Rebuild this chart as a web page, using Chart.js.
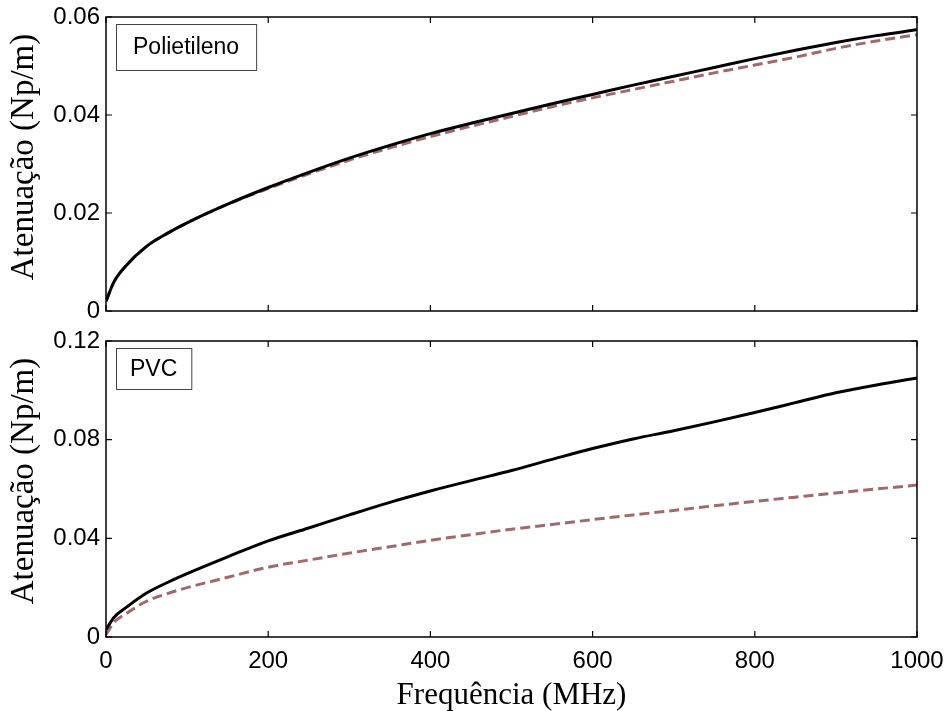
<!DOCTYPE html>
<html>
<head>
<meta charset="utf-8">
<script src="https://cdn.jsdelivr.net/npm/chart.js@4.4.1/dist/chart.umd.min.js"></script>
<style>
  html, body { margin: 0; padding: 0; background: #fff; }
  #wrap { position: relative; width: 946px; height: 711px; }
  canvas { position: absolute; left: 0; }
  #c1 { top: 0; }
  #c2 { top: 325px; }
</style>
</head>
<body>
<div id="wrap">
  <canvas id="c1" width="946" height="325"></canvas>
  <canvas id="c2" width="946" height="386"></canvas>
</div>
<script>
// ---- data ----
const freqs = [0, 10, 25, 50, 75, 100, 150, 200, 250, 300, 350, 400, 450, 500, 550, 600, 650, 700, 750, 800, 850, 900, 950, 1000];

const polySolid  = [0.002, 0.006, 0.0093, 0.0132, 0.0158, 0.0180, 0.0218, 0.0252, 0.0283, 0.0312, 0.0338, 0.0362, 0.0383, 0.0403, 0.0423, 0.0442, 0.0461, 0.0479, 0.0497, 0.0515, 0.0532, 0.0548, 0.0562, 0.0574];
const polyDashed = [0.002, 0.006, 0.0093, 0.0132, 0.0158, 0.0180, 0.0218, 0.0250, 0.0280, 0.0308, 0.0333, 0.0356, 0.0377, 0.0397, 0.0417, 0.0435, 0.0452, 0.0469, 0.0486, 0.0502, 0.0518, 0.0536, 0.0551, 0.0564];

const pvcSolid   = [0.003, 0.008, 0.012, 0.0178, 0.0220, 0.0257, 0.0325, 0.0390, 0.0442, 0.0495, 0.0546, 0.0592, 0.0634, 0.0675, 0.0720, 0.0764, 0.0803, 0.0836, 0.0872, 0.0910, 0.0950, 0.0990, 0.1022, 0.1050];
const pvcDashed  = [0.001, 0.006, 0.0095, 0.0145, 0.0175, 0.0200, 0.0242, 0.0283, 0.0312, 0.0340, 0.0366, 0.0392, 0.0415, 0.0437, 0.0456, 0.0476, 0.0495, 0.0513, 0.0532, 0.0550, 0.0567, 0.0584, 0.0600, 0.0616];

const xTickValues = [0, 200, 400, 600, 800, 1000];
const xTickLabels = ['0', '200', '400', '600', '800', '1000'];
const topYTickValues = [0, 0.02, 0.04, 0.06];
const topYTickLabels = ['0', '0.02', '0.04', '0.06'];
const botYTickValues = [0, 0.04, 0.08, 0.12];
const botYTickLabels = ['0', '0.04', '0.08', '0.12'];

const topLegend = 'Polietileno';
const botLegend = 'PVC';
const yTitle = 'Atenuação (Np/m)';
const xTitle = 'Frequência (MHz)';

// ---- helpers ----
const toPts = (ys) => freqs.map((f, i) => ({ x: f, y: ys[i] }));
const SANS = '"Liberation Sans", Arial, sans-serif';
const SERIF = '"Liberation Serif", "Times New Roman", serif';
const DASH_COLOR = '#A06A6A';

const frameTicks = {
  id: 'frameTicks',
  afterDraw(chart, args, opts) {
    const { ctx, chartArea: { left, right, top, bottom } } = chart;
    const x = chart.scales.x, y = chart.scales.y;
    ctx.save();
    ctx.strokeStyle = '#000';
    ctx.lineWidth = 1.5;
    ctx.strokeRect(left, top, right - left, bottom - top);
    ctx.lineWidth = 1.2;
    const L = 6;
    ctx.beginPath();
    x.ticks.forEach(t => {
      const px = x.getPixelForValue(t.value);
      ctx.moveTo(px, bottom); ctx.lineTo(px, bottom - L);
      ctx.moveTo(px, top); ctx.lineTo(px, top + L);
    });
    y.ticks.forEach(t => {
      const py = y.getPixelForValue(t.value);
      ctx.moveTo(left, py); ctx.lineTo(left + L, py);
      ctx.moveTo(right, py); ctx.lineTo(right - L, py);
    });
    ctx.stroke();
    // legend box
    ctx.font = '23px ' + SANS;
    const tw = ctx.measureText(opts.text).width;
    const bx = left + 10, by = top + 7;
    const bw = tw + 2 * opts.padX, bh = opts.boxH;
    ctx.fillStyle = '#fff';
    ctx.fillRect(bx, by, bw, bh);
    ctx.strokeStyle = '#444';
    ctx.lineWidth = 1;
    ctx.strokeRect(bx + 0.5, by + 0.5, bw, bh);
    ctx.fillStyle = '#000';
    ctx.textBaseline = 'middle';
    ctx.textAlign = 'left';
    ctx.fillText(opts.text, bx + opts.padX, by + bh / 2 + 1);
    // y-axis title
    ctx.save();
    ctx.font = '33px ' + SERIF;
    ctx.translate(opts.titleX, (top + bottom) / 2 + opts.titleShift);
    ctx.rotate(-Math.PI / 2);
    ctx.textAlign = 'center';
    ctx.textBaseline = 'middle';
    ctx.fillText(yTitle, 0, 0);
    ctx.restore();
    ctx.restore();
  }
};

function makeChart(id, solid, dashed, yMax, yVals, yLabs, showX, topPad, xAxisH, legendText, boxH, padX, titleShift) {
  return new Chart(document.getElementById(id), {
    type: 'line',
    data: {
      datasets: [
        { label: 'solid', data: toPts(solid), borderColor: '#000', borderWidth: 3, pointRadius: 0, cubicInterpolationMode: 'monotone', fill: false },
        { label: 'dashed', data: toPts(dashed), borderColor: DASH_COLOR, borderWidth: 3, borderDash: [10, 5], pointRadius: 0, cubicInterpolationMode: 'monotone', fill: false }
      ]
    },
    options: {
      responsive: false,
      animation: false,
      devicePixelRatio: 1,
      layout: { padding: { left: 0, right: 29, top: topPad, bottom: 0 } },
      plugins: {
        legend: { display: false },
        tooltip: { enabled: false },
        frameTicks: { text: legendText, boxH: boxH, padX: padX, titleX: 24, titleShift: titleShift }
      },
      scales: {
        x: {
          type: 'linear', min: 0, max: 1000,
          grid: { display: false, drawTicks: false },
          border: { display: false },
          afterBuildTicks: (s) => { s.ticks = xTickValues.map(v => ({ value: v })); },
          afterFit: (s) => { s.height = xAxisH; s.paddingLeft = 0; s.paddingRight = 0; },
          ticks: {
            display: showX,
            padding: 10,
            color: '#000',
            font: { family: SANS, size: 24 },
            maxRotation: 0,
            callback: (v) => xTickLabels[xTickValues.indexOf(v)]
          },
          title: {
            display: showX, text: xTitle, color: '#000',
            font: { family: SERIF, size: 31, lineHeight: 1.0 },
            padding: { top: 0, bottom: 0 }
          }
        },
        y: {
          type: 'linear', min: 0, max: yMax,
          grid: { display: false, drawTicks: false },
          border: { display: false },
          afterBuildTicks: (s) => { s.ticks = yVals.map(v => ({ value: v })); },
          afterFit: (s) => { s.width = 106; s.paddingTop = 0; s.paddingBottom = 0; },
          ticks: {
            padding: 6,
            color: '#000',
            font: { family: SANS, size: 24 },
            callback: (v) => yLabs[yVals.indexOf(v)]
          },
          title: { display: false }
        }
      }
    },
    plugins: [frameTicks]
  });
}

Chart.defaults.color = '#000';
makeChart('c1', polySolid, polyDashed, 0.06, topYTickValues, topYTickLabels, false, 17, 14, topLegend, 46, 17, -7);
makeChart('c2', pvcSolid, pvcDashed, 0.12, botYTickValues, botYTickLabels, true, 16, 74, botLegend, 41, 14, -8);
</script>
</body>
</html>
